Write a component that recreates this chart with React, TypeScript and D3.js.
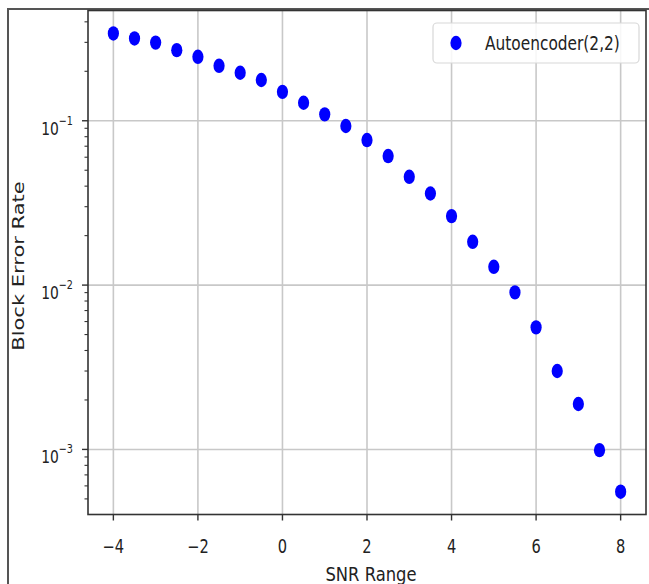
import React from 'react';
import * as d3 from 'd3';

const snr = [-4, -3.5, -3, -2.5, -2, -1.5, -1, -0.5, 0, 0.5, 1, 1.5, 2, 2.5, 3, 3.5, 4, 4.5, 5, 5.5, 6, 6.5, 7, 7.5, 8];
const bler = [0.34, 0.317, 0.299, 0.269, 0.245, 0.216, 0.196, 0.177, 0.15, 0.1287, 0.1094, 0.0929, 0.0763, 0.061, 0.0456, 0.0361, 0.0263, 0.01834, 0.01292, 0.00903, 0.00553, 0.003, 0.00189, 0.00099, 0.000553];
const xTicks = [-4, -2, 0, 2, 4, 6, 8];
const yTickExps = [-1, -2, -3];
const seriesLabel = 'Autoencoder(2,2)';
const xLabel = 'SNR Range';
const yLabel = 'Block Error Rate';

const SX = 0.77;
const FONT = '"DejaVu Sans", sans-serif';

export default function App() {
  const W = 649, H = 584;
  const m = { left: 88, right: 646, top: 10.5, bottom: 514.5 };
  const x = d3.scaleLinear().domain([-4.6, 8.6]).range([m.left, m.right]);
  const y = d3.scaleLog().domain([Math.pow(10, -3.396), Math.pow(10, -0.329)]).range([m.bottom, m.top]);
  const [ymin, ymax] = y.domain();
  const minor: number[] = [];
  for (let d = -4; d <= 0; d++) {
    for (let k = 2; k <= 9; k++) {
      const v = k * Math.pow(10, d);
      if (v >= ymin && v <= ymax) minor.push(v);
    }
  }
  const grid = '#c8c8c8';
  const ink = '#333';
  return (
    <svg width={W} height={H} style={{ position: 'absolute', left: 0, top: 0, background: '#fff' }} fontFamily={FONT}>
      <rect x={0} y={0} width={W} height={H} fill="#fff" />
      {/* outer frame */}
      <rect x={8} y={9} width={W + 20} height={H + 20} fill="none" stroke="#555" strokeWidth={2} />
      {/* gridlines */}
      {xTicks.map(t => (
        <line key={'gx' + t} x1={x(t)} x2={x(t)} y1={m.top} y2={m.bottom} stroke={grid} strokeWidth={1.6} />
      ))}
      {yTickExps.map(e => (
        <line key={'gy' + e} x1={m.left} x2={m.right} y1={y(Math.pow(10, e))} y2={y(Math.pow(10, e))} stroke={grid} strokeWidth={1.6} />
      ))}
      {/* points */}
      {snr.map((s, i) => (
        <ellipse key={'p' + i} cx={x(s)} cy={y(bler[i])} rx={5.6} ry={7.2} fill="#0000ff" />
      ))}
      {/* spines */}
      <rect x={m.left} y={m.top} width={m.right - m.left} height={m.bottom - m.top} fill="none" stroke={ink} strokeWidth={1.6} />
      {/* x ticks */}
      {xTicks.map(t => (
        <g key={'xt' + t}>
          <line x1={x(t)} x2={x(t)} y1={m.bottom} y2={m.bottom + 6} stroke={ink} strokeWidth={1.4} />
          <text transform={`translate(${x(t)},${m.bottom + 38}) scale(${SX},1)`} textAnchor="middle" fontSize={19} fill="#222">
            {t < 0 ? '\u2212' + Math.abs(t) : String(t)}
          </text>
        </g>
      ))}
      {/* y major ticks */}
      {yTickExps.map(e => {
        const yy = y(Math.pow(10, e));
        return (
          <g key={'yt' + e}>
            <line x1={m.left - 6} x2={m.left} y1={yy} y2={yy} stroke={ink} strokeWidth={1.4} />
            <text transform={`translate(${m.left - 15},${yy + 14}) scale(${SX},1)`} textAnchor="end" fontSize={18} fill="#222">
              10<tspan fontSize={12.5} dy={-10}>{'\u2212' + Math.abs(e)}</tspan>
            </text>
          </g>
        );
      })}
      {minor.map((v, i) => (
        <line key={'mn' + i} x1={m.left - 3.5} x2={m.left} y1={y(v)} y2={y(v)} stroke={ink} strokeWidth={1.1} />
      ))}
      {/* axis labels */}
      <text transform={`translate(${(m.left + m.right) / 2 + 4},${581}) scale(0.82,1)`} textAnchor="middle" fontSize={20} fill="#222">
        {xLabel}
      </text>
      <text transform={`translate(24,266) scale(${SX},1) rotate(-90)`} textAnchor="middle" fontSize={21} fill="#222">
        {yLabel}
      </text>
      {/* legend */}
      <rect x={433} y={23} width={206} height={40} rx={4} fill="#fff" fillOpacity={0.85} stroke="#d8d8d8" strokeWidth={1.2} />
      <ellipse cx={456} cy={43} rx={5.6} ry={7.2} fill="#0000ff" />
      <text transform={`translate(485,50) scale(${SX},1)`} fontSize={20} fill="#222">
        {seriesLabel}
      </text>
    </svg>
  );
}
